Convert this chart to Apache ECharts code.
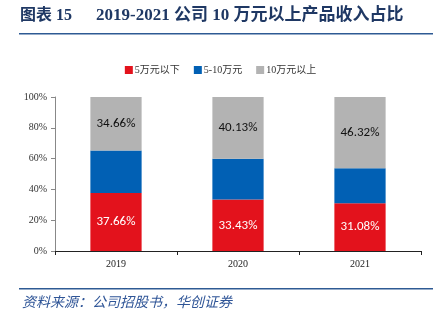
<!DOCTYPE html>
<html><head><meta charset="utf-8">
<script src="https://cdn.jsdelivr.net/npm/echarts@6/dist/echarts.min.js"></script>
<style>html,body{margin:0;padding:0;background:#fff}#c{width:441px;height:321px}</style>
</head><body><div id="c"></div>
<script>
var categories = ['2019', '2020', '2021'];
var seriesNames = ['5万元以下', '5-10万元', '10万元以上'];
var below5 = [37.66, 33.43, 31.08];
var mid5to10 = [27.68, 26.44, 22.60];
var above10 = [34.66, 40.13, 46.32];
var yTicks = [0, 20, 40, 60, 80, 100];

var chart = echarts.init(document.getElementById('c'));
var serifCJK = '"Liberation Serif", "Times New Roman", "Noto Sans CJK SC", serif';
function mk(name, data, color, labelColor, showLabel) {
  return {
    name: name, type: 'bar', stack: 'a', data: data, barWidth: '42%',
    itemStyle: { color: color },
    label: { show: showLabel, position: 'inside', color: labelColor,
      fontFamily: 'Carlito, "Open Sans", sans-serif', fontSize: 13,
      formatter: function (p) { return p.value.toFixed(2) + '%'; } },
    emphasis: { disabled: true }
  };
}
chart.setOption({
  animation: false,
  grid: { left: 55, right: 20, top: 97, bottom: 70 },
  legend: {
    top: 60, left: 'center', itemWidth: 8, itemHeight: 8, itemGap: 14,
    icon: 'rect',
    textStyle: { fontFamily: serifCJK, fontSize: 10, color: '#333', padding: [0, 0, 0, -3] },
    data: seriesNames
  },
  xAxis: {
    type: 'category', data: categories,
    axisLine: { lineStyle: { color: '#222', width: 1 } },
    axisTick: { show: true, alignWithLabel: false, length: 4, lineStyle: { color: '#222' } },
    axisLabel: { fontFamily: serifCJK, fontSize: 10, color: '#222', margin: 8 }
  },
  yAxis: {
    type: 'value', min: 0, max: 100, interval: 20,
    axisLine: { show: true, lineStyle: { color: '#888', width: 1 } },
    axisTick: { show: true, length: 4, lineStyle: { color: '#888' } },
    splitLine: { show: false },
    axisLabel: { fontFamily: serifCJK, fontSize: 10, color: '#333', margin: 8,
      formatter: function (v) { return yTicks.indexOf(v) >= 0 ? v + '%' : ''; } }
  },
  series: [
    mk(seriesNames[0], below5, '#E3121C', '#fff', true),
    mk(seriesNames[1], mid5to10, '#0160B4', '#fff', false),
    mk(seriesNames[2], above10, '#B3B3B3', '#111', true)
  ],
  graphic: [
    { type: 'text', left: 20, top: 8, style: { text: '图表 15',
      font: 'bold 16px "Liberation Serif", "Noto Sans CJK SC", serif', fill: '#1F3864' } },
    { type: 'text', left: 96, top: 7, style: { text: '2019-2021 公司 10 万元以上产品收入占比',
      font: 'bold 17px "Liberation Serif", "Noto Sans CJK SC", serif', fill: '#1F3864' } },
    { type: 'rect', shape: { x: 19, y: 33, width: 414, height: 1.5 }, style: { fill: '#2E5A94' } },
    { type: 'rect', shape: { x: 19, y: 288, width: 414, height: 1.5 }, style: { fill: '#2E5A94' } },
    { type: 'text', left: 22, top: 295, style: { text: '资料来源：公司招股书，华创证券',
      font: 'italic 14px "Noto Sans CJK SC", sans-serif', fill: '#2F5597' } }
  ]
});
</script></body></html>
